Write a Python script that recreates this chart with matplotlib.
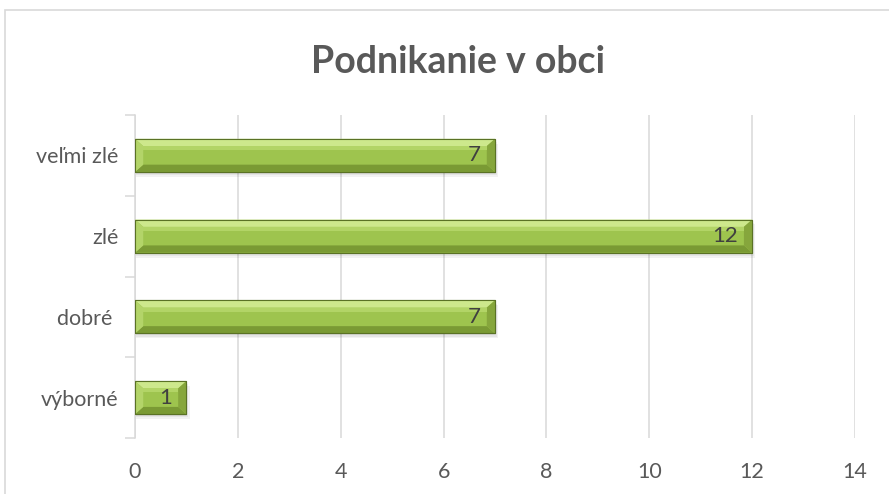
import matplotlib
matplotlib.use("Agg")
import matplotlib.pyplot as plt
from matplotlib.patches import Polygon, Rectangle
from matplotlib.ticker import FixedLocator, NullFormatter

categories = ["výborné", "dobré ", "zlé", "veľmi zlé"]
values = [1, 7, 12, 7]
x_ticks = [0, 2, 4, 6, 8, 10, 12, 14]
title = "Podnikanie v obci"

plt.rcParams["font.family"] = ["Lato", "DejaVu Sans"]
text_col = "#595959"

fig = plt.figure(figsize=(8.89, 4.94), dpi=100)
fig.patches.append(Rectangle((5 / 889, -0.01), 1.0, 1 - 10 / 494 + 0.01,
                             transform=fig.transFigure, fill=False,
                             edgecolor="#d9d9d9", linewidth=1.2))
ax = fig.add_axes([135 / 889, 56 / 494, 720 / 889, 323 / 494])

h = 0.41
bx = 0.16   # bevel width in data units (x)
by = 0.09   # bevel height in category units (y)
for i, v in enumerate(values):
    y0, y1 = i - h / 2, i + h / 2
    # soft shadow
    for k in range(3):
        d = 0.02 * (k + 1)
        ax.add_patch(Rectangle((0.02, y0 - d), v + 0.02 * k, h, facecolor="#000000",
                               alpha=0.05, linewidth=0, zorder=2))
    ax.add_patch(Rectangle((0, y0), v, h, facecolor="#9ec44e",
                           edgecolor="#5a7225", linewidth=0.8, zorder=3))
    # bevel faces
    ax.add_patch(Polygon([(0, y1), (v, y1), (v - bx, y1 - by), (bx, y1 - by)],
                         closed=True, facecolor="#cde88c", linewidth=0, zorder=4))
    ax.add_patch(Polygon([(0, y0), (v, y0), (v - bx, y0 + by), (bx, y0 + by)],
                         closed=True, facecolor="#7a9a34", linewidth=0, zorder=4))
    ax.add_patch(Polygon([(0, y0), (0, y1), (bx, y1 - by), (bx, y0 + by)],
                         closed=True, facecolor="#b3d469", linewidth=0, zorder=4))
    ax.add_patch(Polygon([(v, y0), (v, y1), (v - bx, y1 - by), (v - bx, y0 + by)],
                         closed=True, facecolor="#86a63c", linewidth=0, zorder=4))
    ax.add_patch(Rectangle((bx, y1 - by - 0.05), v - 2 * bx, 0.05,
                           facecolor="#b2d466", linewidth=0, zorder=4))
    ax.add_patch(Rectangle((0, y0), v, h, fill=False,
                           edgecolor="#5a7225", linewidth=0.8, zorder=5))
    ax.text(v - 0.27, i, str(v), ha="right", va="center", fontsize=16,
            color="#404040", zorder=6)

ax.set_xlim(0, 14)
ax.set_ylim(-0.5, len(categories) - 0.5)
ax.set_xticks(x_ticks)
ax.set_xticklabels([str(t) for t in x_ticks])
ax.tick_params(axis="x", length=0, pad=17, labelsize=15.5, labelcolor=text_col)
ax.xaxis.grid(True, color="#d9d9d9", linewidth=1.1)
ax.set_axisbelow(True)

ax.set_yticks(range(len(categories)))
ax.set_yticklabels(categories)
ax.tick_params(axis="y", which="major", length=0, pad=12, labelsize=15.5,
               labelcolor=text_col)
ax.yaxis.set_minor_locator(FixedLocator([k - 0.5 for k in range(len(categories) + 1)]))
ax.yaxis.set_minor_formatter(NullFormatter())
ax.tick_params(axis="y", which="minor", length=7, width=1.1, color="#d9d9d9")

for s in ["top", "right", "bottom"]:
    ax.spines[s].set_visible(False)
ax.spines["left"].set_color("#d9d9d9")
ax.spines["left"].set_linewidth(1.1)

fig.text(458 / 889, 1 - 62 / 494, title, ha="center", va="center",
         fontsize=27, fontweight="bold", color=text_col)

fig.savefig("out.png", dpi=100)
